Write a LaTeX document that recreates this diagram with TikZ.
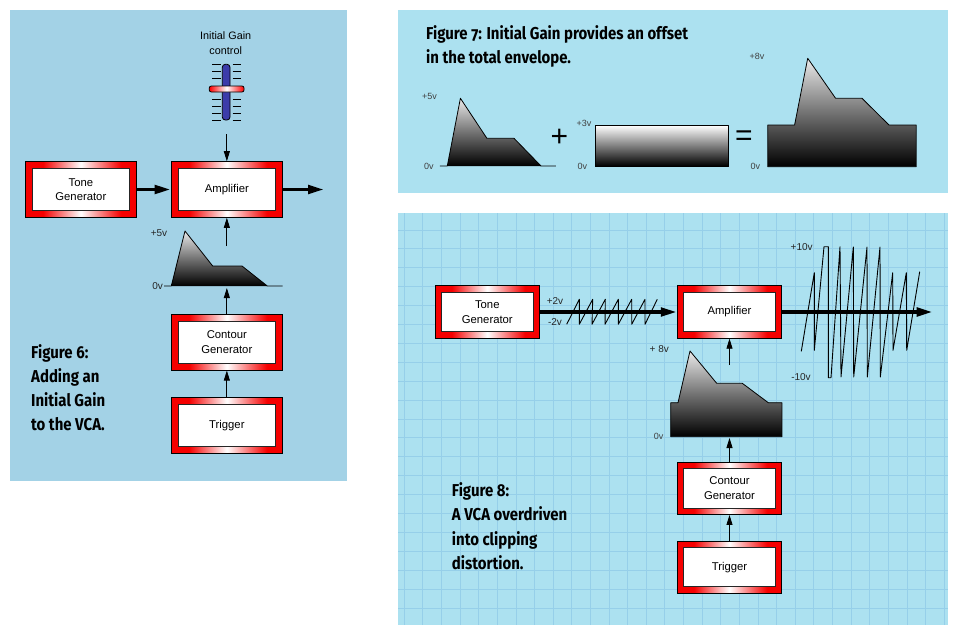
\documentclass[tikz,border=0pt]{standalone}
\usepackage{fontspec}
\setmainfont{Liberation Sans}
\newfontfamily\capfont[FakeStretch=0.87,Numbers=OldStyle]{Fira Sans}
\usetikzlibrary{arrows.meta}
\definecolor{panelA}{RGB}{163,210,230}
\definecolor{panelB}{RGB}{172,225,240}
\definecolor{gridline}{RGB}{150,207,233}
\definecolor{redframe}{RGB}{245,0,0}
\definecolor{slider}{RGB}{60,60,170}
\pgfdeclarehorizontalshading{redstrip}{100bp}{color(0bp)=(redframe); color(33bp)=(redframe); color(50bp)=(white); color(68bp)=(redframe); color(100bp)=(redframe)}
\tikzset{
  frameA/.style={draw=black,line width=1pt,shading=redstrip,minimum width=111.5pt,minimum height=55.6pt,inner sep=0pt},
  frameB/.style={frameA,minimum width=104.4pt,minimum height=52.3pt},
  innerA/.style={draw=black!85,line width=1pt,fill=white,minimum width=97.5pt,minimum height=42pt,inner sep=0pt,align=center,font=\fontsize{11.3}{14.5}\selectfont},
  innerB/.style={innerA,minimum width=92.5pt,minimum height=39.5pt},
  thinarrow/.style={draw=black,line width=.8pt,-{Triangle[length=10pt,width=6pt]}},
  thickarrow/.style={draw=black,line width=3.5pt,-{Triangle[length=16pt,width=8.5pt]}},
  wave/.style={draw=black,line width=.9pt,line join=round},
  volt/.style={font=\fontsize{10}{10}\selectfont,inner sep=0pt,text=black!85},
  voltS/.style={font=\fontsize{9}{10}\selectfont,inner sep=0pt,text=black!75},
  captext/.style={font=\capfont\bfseries\fontsize{17.2}{24}\selectfont,anchor=base west,inner sep=0pt},
  outline/.style={draw=black,line width=.8pt,line join=round},
  env/.style={top color=white!92!black,bottom color=black,middle color=black!55},
  tickline/.style={draw=black,line width=.7pt},
  opsign/.style={font=\fontsize{30}{30}\selectfont,inner sep=0pt}
}
\begin{document}
\begin{tikzpicture}[x=1pt,y=-1pt]
\useasboundingbox (0,0) rectangle (961,637);
\fill[white] (0,0) rectangle (961,637);
% panels
\fill[panelA] (10,10) rectangle (347,481);
\fill[panelB] (398,10) rectangle (948,193);
\fill[panelB] (398,213) rectangle (948,625);
\foreach \k in {0,...,29} {\draw[gridline,line width=1pt] ({404.3+18.62*\k},213) -- ({404.3+18.62*\k},625);}
\foreach \k in {0,...,20} {\draw[gridline,line width=1pt] (398,{230+18.9*\k}) -- (948,{230+18.9*\k});}

% ---------- Figure 6
\node[frameA] (toneA-f) at (80.85,189.5) {};
\node[innerA] (toneA) at (80.85,189.5) {Tone\\Generator};
\node[frameA] (ampA-f) at (226.85,189.5) {};
\node[innerA] (ampA) at (226.85,189.5) {Amplifier};
\node[frameA] (contA-f) at (226.85,342.3) {};
\node[innerA] (contA) at (226.85,342.3) {Contour\\Generator};
\node[frameA] (trigA-f) at (226.85,425.3) {};
\node[innerA] (trigA) at (226.85,425.3) {Trigger};
% slider
\node[inner sep=0pt,align=center,font=\fontsize{10.8}{14.5}\selectfont] (gainlabel) at (225.7,43) {Initial Gain\\control};
\foreach \yy in {64.3,71.3,78.3,99.3,106.3,113.3,120.3} {
  \draw[tickline] (212,\yy) -- (220.7,\yy);
  \draw[tickline] (232.7,\yy) -- (240.7,\yy);
}
\draw[line width=.8pt,fill=slider,rounded corners=3pt] (222.3,64.3) rectangle (230,120);
\shade[left color=red,right color=red,middle color=white,draw=black,line width=.8pt,rounded corners=2pt] (209.3,86) rectangle (244,92);
% envelope
\shade[env] (171.3,286) -- (185,231) -- (212.7,266) -- (242,266) -- (267.3,286) -- cycle;
\draw[outline] (164,286) -- (171.3,286) -- (185,231) -- (212.7,266) -- (242,266) -- (267.3,286) -- (282.7,286);
\node[volt] (a5v) at (159,233) {+5v};
\node[volt] (a0v) at (157.7,286.5) {0v};
\coordinate (gainout) at (226.85,134.3);
\coordinate (envAtop) at (226.85,246);
\coordinate (envAbot) at (226.85,288);
\coordinate (ampAout) at (324,189.5);
\draw[thinarrow] (gainout) -- (ampA-f.north);
\draw[thinarrow] (envAtop) -- (ampA-f.south);
\draw[thinarrow] (contA-f.north) -- (envAbot);
\draw[thinarrow] (trigA-f.north) -- (contA-f.south);
\draw[thickarrow] (toneA-f.east) -- (ampA-f.west);
\draw[thickarrow] (ampA-f.east) -- (ampAout);
\node[captext] (capA1) at (31,358) {Figure 6:};
\node[captext] (capA2) at (31,382) {Adding an};
\node[captext] (capA3) at (31,406) {Initial Gain};
\node[captext] (capA4) at (31,430.5) {to the VCA.};

% ---------- Figure 7
\node[captext] (capB1) at (426,39.5) {Figure 7: Initial Gain provides an offset};
\node[captext] (capB2) at (426,63.5) {in the total envelope.};
\shade[env] (447.3,166) -- (460.4,98.3) -- (486.9,138.3) -- (514,138.3) -- (541,166) -- cycle;
\draw[outline] (439.9,166) -- (447.3,166) -- (460.4,98.3) -- (486.9,138.3) -- (514,138.3) -- (541,166) -- (555.8,166);
\node[voltS] (b5v) at (429.6,96) {+5v};
\node[voltS] (b0v) at (428.9,166) {0v};
\node[opsign] (plus) at (559.3,138.3) {+};
\shade[top color=white,bottom color=black] (595,125.3) rectangle (728.6,166);
\draw[outline] (595,125.3) rectangle (728.6,166);
\node[voltS] (b3v) at (584,123.3) {+3v};
\node[voltS] (b0vb) at (582.3,166) {0v};
\node[opsign] (equals) at (744,138.3) {=};
\shade[env] (767.8,166.7) -- (767.8,125) -- (794.6,125) -- (807.7,58.3) -- (835.6,98.3) -- (862,98.3) -- (889,125) -- (916.2,125) -- (916.2,166.7) -- cycle;
\draw[outline] (767.8,166.7) -- (767.8,125) -- (794.6,125) -- (807.7,58.3) -- (835.6,98.3) -- (862,98.3) -- (889,125) -- (916.2,125) -- (916.2,166.7) -- cycle;
\node[voltS] (b8v) at (757,56.7) {+8v};
\node[voltS] (b0vc) at (755.4,166) {0v};

% ---------- Figure 8
\draw[wave] (566.7,324.3)
  -- (579.3,299.3) -- (579.3,324.3)
  -- (592.7,299.3) -- (592,324.3)
  -- (605.3,299.3) -- (605,324.3)
  -- (618.3,299.3) -- (618.3,324.3)
  -- (631.7,299.3) -- (631.7,324.3)
  -- (645,299.3) -- (645,324.3)
  -- (657.3,299.3);
\draw[wave] (801.3,351.3) -- (814.3,272.7) -- (814.3,350.3) -- (824,246.7) -- (828.3,246.7)
  -- (828.3,377.7) -- (831,377.7) -- (840,246.7) -- (841,377) -- (853.3,247) -- (853.7,377)
  -- (867,247) -- (867.3,377) -- (880,247) -- (880.3,377) -- (892.7,272.7) -- (893,350.3)
  -- (906.3,272.7) -- (906.7,350.3) -- (919.7,271.7);
\node[frameB] (toneC-f) at (487.3,312) {};
\node[innerB] (toneC) at (487.3,312) {Tone\\Generator};
\node[frameB] (ampC-f) at (729.5,312) {};
\node[innerB] (ampC) at (729.5,312) {Amplifier};
\node[frameB] (contC-f) at (729.5,488.3) {};
\node[innerB] (contC) at (729.5,488.3) {Contour\\Generator};
\node[frameB] (trigC-f) at (729.5,567.2) {};
\node[innerB] (trigC) at (729.5,567.2) {Trigger};
\node[volt] (c2p) at (555,301) {+2v};
\node[volt] (c2m) at (555,322.3) {-2v};
\node[volt] (c10p) at (801.7,247.3) {+10v};
\node[volt] (c10m) at (801,377) {-10v};
\node[volt] (c8v) at (659.3,349) {+ 8v};
\node[voltS] (c0v) at (658.7,436.7) {0v};
\shade[env] (670.7,436.7) -- (670.7,402.7) -- (678,402.7) -- (690,351) -- (716.7,383.3) -- (742.3,383.3) -- (768.3,402.7) -- (782,402.7) -- (782,436.7) -- cycle;
\draw[outline] (670.7,436.7) -- (670.7,402.7) -- (678,402.7) -- (690,351) -- (716.7,383.3) -- (742.3,383.3) -- (768.3,402.7) -- (782,402.7) -- (782,436.7) -- cycle;
\coordinate (envCtop) at (729.5,365);
\coordinate (envCbot) at (729.5,438);
\coordinate (ampCout) at (932.7,312);
\draw[thinarrow] (envCtop) -- (ampC-f.south);
\draw[thinarrow] (contC-f.north) -- (envCbot);
\draw[thinarrow] (trigC-f.north) -- (contC-f.south);
\draw[thickarrow] (toneC-f.east) -- (ampC-f.west);
\draw[thickarrow] (ampC-f.east) -- (ampCout);
\node[captext] (capC1) at (451.7,496) {Figure 8:};
\node[captext] (capC2) at (451.7,520.5) {A VCA overdriven};
\node[captext] (capC3) at (451.7,545) {into clipping};
\node[captext] (capC4) at (451.7,569.5) {distortion.};
\end{tikzpicture}
\end{document}
